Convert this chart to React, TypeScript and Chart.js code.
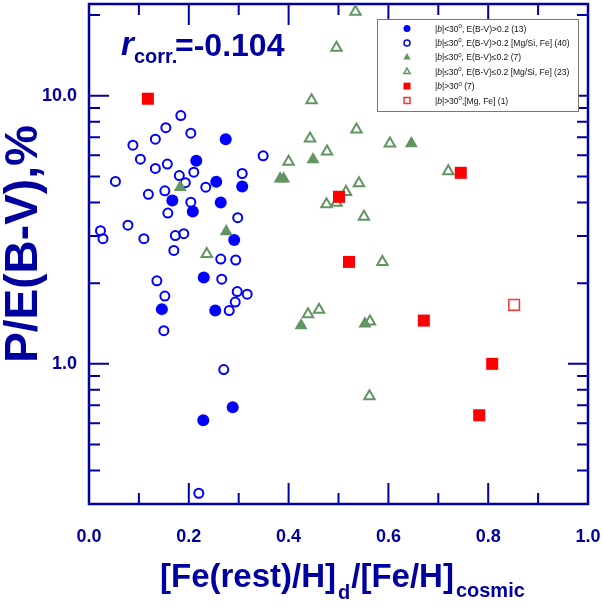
import React, { useEffect, useRef } from 'react';
import { Chart, registerables } from 'chart.js';
import type { ChartConfiguration, Plugin } from 'chart.js';

Chart.register(...registerables);

const FONT = "'Liberation Sans', Arial, sans-serif";
const DARK = '#0000a0';
const BLUE = '#0000ff';
const GREEN = '#639463';
const RED = '#ff0000';
const RED_LIGHT = '#ff3030';

// |b|<30, E(B-V)>0.2 (13)
const blueFilledX = [0.274, 0.215, 0.255, 0.307, 0.167, 0.264, 0.208, 0.291, 0.230, 0.146, 0.253, 0.229, 0.288];
const blueFilledY = [6.89, 5.72, 4.78, 4.59, 4.07, 4.00, 3.70, 2.90, 2.10, 1.60, 1.58, 0.616, 0.689];

// |b|<=30, E(B-V)>0.2 [Mg/Si, Fe]
const blueOpenX = [0.184, 0.154, 0.204, 0.133, 0.088, 0.103, 0.157, 0.133, 0.349, 0.210, 0.181, 0.193, 0.307,
  0.053, 0.234, 0.152, 0.119, 0.204, 0.158, 0.298, 0.078, 0.023, 0.028, 0.110, 0.190, 0.173, 0.170, 0.264,
  0.294, 0.266, 0.136, 0.152, 0.297, 0.317, 0.293, 0.281, 0.150, 0.270, 0.220];
const blueOpenY = [8.44, 7.60, 7.25, 6.89, 6.54, 5.80, 5.56, 5.36, 5.97, 5.19, 5.04, 4.74, 5.13,
  4.79, 4.56, 4.42, 4.29, 4.01, 3.65, 3.51, 3.29, 3.14, 2.93, 2.93, 3.06, 3.01, 2.65, 2.46,
  2.44, 2.07, 2.04, 1.79, 1.86, 1.82, 1.70, 1.58, 1.33, 0.952, 0.329];

// |b|<=30, E(B-V)<=0.2
const greenFilledX = [0.183, 0.275, 0.449, 0.646, 0.383, 0.390, 0.425, 0.553];
const greenFilledY = [4.56, 3.12, 5.79, 6.64, 4.90, 4.90, 1.39, 1.41];

// |b|<=30, E(B-V)<=0.2 [Mg/Si, Fe]
const greenOpenX = [0.534, 0.496, 0.446, 0.536, 0.443, 0.477, 0.400, 0.603, 0.720, 0.541, 0.515, 0.476,
  0.496, 0.551, 0.236, 0.588, 0.439, 0.461, 0.563, 0.562];
const greenOpenY = [20.6, 15.1, 9.63, 7.48, 6.93, 6.20, 5.67, 6.64, 5.23, 4.72, 4.38, 3.94,
  3.99, 3.54, 2.57, 2.40, 1.53, 1.59, 1.44, 0.757];

// |b|>30
const redFilledX = [0.118, 0.501, 0.745, 0.521, 0.671, 0.808, 0.782];
const redFilledY = [9.75, 4.20, 5.16, 2.40, 1.45, 1.00, 0.643];

// |b|>30, [Mg, Fe]
const redOpenX = [0.852];
const redOpenY = [1.66];

const xLabelValues = [0, 0.2, 0.4, 0.6, 0.8, 1.0];
const xMajorTicks = [0.2, 0.4, 0.6, 0.8];
const xMinorTicks = [0.1, 0.3, 0.5, 0.7, 0.9];
const yLabelValues = [1, 10];
const yMinorTicks = [0.4, 0.5, 0.6, 0.7, 0.8, 0.9, 2, 3, 4, 5, 6, 7, 8, 9, 20];

const Y_MIN = 0.3;
const Y_MAX = 22;

const toPoints = (xs: number[], ys: number[]) => xs.map((x, i) => ({ x, y: ys[i] }));

type Part = { text: string; font: string; dy?: number };

const legendRows: Part[][] = (() => {
  const f = `8.5px ${FONT}`;
  const fi = `italic 8.5px ${FONT}`;
  const fs = `6px ${FONT}`;
  const head = (rel: string): Part[] => [
    { text: '|', font: f }, { text: 'b', font: fi }, { text: `|${rel}30`, font: f }, { text: '0', font: fs, dy: -3.5 },
  ];
  return [
    [...head('<'), { text: ', E(B-V)>0.2 (13)', font: f }],
    [...head('\u2264'), { text: ', E(B-V)>0.2 [Mg/Si, Fe] (40)', font: f }],
    [...head('\u2264'), { text: ', E(B-V)\u22640.2 (7)', font: f }],
    [...head('\u2264'), { text: ', E(B-V)\u22640.2 [Mg/Si, Fe] (23)', font: f }],
    [...head('>'), { text: ' (7)', font: f }],
    [...head('>'), { text: ',[Mg, Fe] (1)', font: f }],
  ];
})();

function drawParts(ctx: CanvasRenderingContext2D, x: number, y: number, parts: Part[]) {
  let cx = x;
  parts.forEach((p) => {
    ctx.font = p.font;
    ctx.fillText(p.text, cx, y + (p.dy || 0));
    cx += ctx.measureText(p.text).width;
  });
  return cx;
}

function drawMarker(ctx: CanvasRenderingContext2D, kind: number, x: number, y: number) {
  ctx.save();
  ctx.lineWidth = 1.5;
  ctx.beginPath();
  if (kind === 0 || kind === 1) {
    ctx.arc(x, y, kind === 0 ? 3.5 : 3, 0, Math.PI * 2);
    if (kind === 0) { ctx.fillStyle = BLUE; ctx.fill(); } else { ctx.strokeStyle = BLUE; ctx.stroke(); }
  } else if (kind === 2 || kind === 3) {
    const r = kind === 2 ? 4.2 : 3.6;
    ctx.moveTo(x, y - r);
    ctx.lineTo(x + r * 0.866, y + r / 2);
    ctx.lineTo(x - r * 0.866, y + r / 2);
    ctx.closePath();
    if (kind === 2) { ctx.fillStyle = GREEN; ctx.fill(); } else { ctx.strokeStyle = GREEN; ctx.stroke(); }
  } else if (kind === 4) {
    ctx.fillStyle = RED;
    ctx.fillRect(x - 3.5, y - 3.5, 7, 7);
  } else {
    ctx.strokeStyle = RED_LIGHT;
    ctx.strokeRect(x - 3, y - 3, 6, 6);
  }
  ctx.restore();
}

const framePlugin: Plugin<'scatter'> = {
  id: 'frameTicks',
  beforeDatasetsDraw(chart) {
    const { ctx, chartArea: a, scales } = chart;
    const xs = scales.x;
    const ys = scales.y;
    ctx.save();
    ctx.strokeStyle = DARK;
    ctx.lineWidth = 2;
    ctx.beginPath();
    const tick = (x1: number, y1: number, x2: number, y2: number) => { ctx.moveTo(x1, y1); ctx.lineTo(x2, y2); };
    xMajorTicks.forEach((v) => {
      const px = xs.getPixelForValue(v);
      tick(px, a.bottom, px, a.bottom - 21);
      tick(px, a.top, px, a.top + 21);
    });
    xMinorTicks.forEach((v) => {
      const px = xs.getPixelForValue(v);
      tick(px, a.bottom, px, a.bottom - 11);
      tick(px, a.top, px, a.top + 11);
    });
    yLabelValues.forEach((v) => {
      const py = ys.getPixelForValue(v);
      tick(a.left, py, a.left + 20, py);
      tick(a.right, py, a.right - 20, py);
    });
    yMinorTicks.forEach((v) => {
      const py = ys.getPixelForValue(v);
      tick(a.left, py, a.left + 11, py);
      tick(a.right, py, a.right - 11, py);
    });
    ctx.stroke();
    ctx.lineWidth = 2.5;
    ctx.strokeRect(a.left, a.top, a.right - a.left, a.bottom - a.top);
    ctx.restore();
  },
  afterDraw(chart) {
    const { ctx, chartArea: a } = chart;
    ctx.save();
    ctx.fillStyle = DARK;
    ctx.textBaseline = 'alphabetic';
    ctx.textAlign = 'left';

    // correlation coefficient
    drawParts(ctx, 121, 55, [{ text: 'r', font: `italic bold 33px ${FONT}` }]);
    drawParts(ctx, 134, 63, [{ text: 'corr.', font: `bold 20px ${FONT}` }]);
    drawParts(ctx, 175, 56, [{ text: '=-0.104', font: `bold 32px ${FONT}` }]);

    // x title with subscripts
    let cx = drawParts(ctx, 160, 587, [{ text: '[Fe(rest)/H]', font: `bold 33px ${FONT}` }]) + 2;
    cx = drawParts(ctx, cx, 599, [{ text: 'd', font: `bold 20px ${FONT}` }]) + 1;
    cx = drawParts(ctx, cx, 587, [{ text: '/[Fe/H]', font: `bold 33px ${FONT}` }]) + 2;
    drawParts(ctx, cx, 597, [{ text: 'cosmic', font: `bold 20px ${FONT}` }]);

    // y title
    ctx.save();
    ctx.translate(37, (a.top + a.bottom) / 2 - 10);
    ctx.rotate(-Math.PI / 2);
    ctx.textAlign = 'center';
    ctx.font = `bold 46px ${FONT}`;
    ctx.fillText('P/E(B-V),%', 0, 0);
    ctx.restore();

    // legend
    const lx = 377;
    const ly = 19;
    ctx.fillStyle = '#ffffff';
    ctx.fillRect(lx, ly, 201, 92);
    ctx.strokeStyle = '#777777';
    ctx.lineWidth = 1;
    ctx.strokeRect(lx + 0.5, ly + 0.5, 201, 92);
    ctx.fillStyle = '#111111';
    legendRows.forEach((parts, i) => {
      const ry = 28.5 + i * 14.4;
      drawMarker(ctx, i, 407, ry);
      drawParts(ctx, 435, ry + 3, parts);
    });
    ctx.restore();
  },
};

const noPadding = (scale: any) => {
  scale.paddingLeft = 0;
  scale.paddingRight = 0;
  scale.paddingTop = 0;
  scale.paddingBottom = 0;
};

const App: React.FC = () => {
  const chartRef = useRef<HTMLCanvasElement>(null);
  const chartInstanceRef = useRef<Chart | null>(null);

  useEffect(() => {
    if (!chartRef.current) return;
    if (chartInstanceRef.current) chartInstanceRef.current.destroy();

    const config: ChartConfiguration<'scatter'> = {
      type: 'scatter',
      data: {
        datasets: [
          {
            label: '|b|>30 (7)',
            data: toPoints(redFilledX, redFilledY),
            pointStyle: 'rect',
            radius: 8.5,
            backgroundColor: RED,
            borderColor: RED,
            borderWidth: 0,
          },
          {
            label: '|b|>30,[Mg, Fe] (1)',
            data: toPoints(redOpenX, redOpenY),
            pointStyle: 'rect',
            radius: 7.5,
            backgroundColor: 'rgba(0,0,0,0)',
            borderColor: RED_LIGHT,
            borderWidth: 1.5,
          },
          {
            label: '|b|<=30, E(B-V)<=0.2 (7)',
            data: toPoints(greenFilledX, greenFilledY),
            pointStyle: 'triangle',
            radius: 7.5,
            backgroundColor: GREEN,
            borderColor: GREEN,
            borderWidth: 0,
          },
          {
            label: '|b|<=30, E(B-V)<=0.2 [Mg/Si, Fe] (23)',
            data: toPoints(greenOpenX, greenOpenY),
            pointStyle: 'triangle',
            radius: 6,
            backgroundColor: 'rgba(0,0,0,0)',
            borderColor: GREEN,
            borderWidth: 2,
          },
          {
            label: '|b|<30, E(B-V)>0.2 (13)',
            data: toPoints(blueFilledX, blueFilledY),
            pointStyle: 'circle',
            radius: 6,
            backgroundColor: BLUE,
            borderColor: BLUE,
            borderWidth: 0,
          },
          {
            label: '|b|<=30, E(B-V)>0.2 [Mg/Si, Fe] (40)',
            data: toPoints(blueOpenX, blueOpenY),
            pointStyle: 'circle',
            radius: 4.5,
            backgroundColor: 'rgba(0,0,0,0)',
            borderColor: BLUE,
            borderWidth: 2,
          },
        ],
      },
      options: {
        responsive: true,
        maintainAspectRatio: false,
        animation: false,
        events: [],
        clip: false as any,
        layout: { autoPadding: false, padding: { top: 4, right: 15, left: 0, bottom: 0 } },
        plugins: {
          legend: { display: false },
          tooltip: { enabled: false },
        },
        scales: {
          x: {
            type: 'linear',
            min: 0,
            max: 1,
            grid: { display: false, drawTicks: false },
            border: { display: false },
            afterBuildTicks: (scale: any) => {
              scale.ticks = xLabelValues.map((value) => ({ value }));
            },
            afterFit: (scale: any) => {
              scale.height = 103;
              noPadding(scale);
            },
            ticks: {
              autoSkip: false,
              maxRotation: 0,
              padding: 22,
              color: DARK,
              font: { family: FONT, size: 18, weight: 'bold' },
              callback: (v: any) => Number(v).toFixed(1),
            },
          },
          y: {
            type: 'logarithmic',
            min: Y_MIN,
            max: Y_MAX,
            grid: { display: false, drawTicks: false },
            border: { display: false },
            afterBuildTicks: (scale: any) => {
              scale.ticks = yLabelValues.map((value) => ({ value }));
            },
            afterFit: (scale: any) => {
              scale.width = 89;
              noPadding(scale);
            },
            ticks: {
              autoSkip: false,
              padding: 12,
              color: DARK,
              font: { family: FONT, size: 18, weight: 'bold' },
              callback: (v: any) => Number(v).toFixed(1),
            },
          },
        },
      },
      plugins: [framePlugin],
    };

    chartInstanceRef.current = new Chart(chartRef.current, config);

    return () => {
      if (chartInstanceRef.current) {
        chartInstanceRef.current.destroy();
        chartInstanceRef.current = null;
      }
    };
  }, []);

  return (
    <div style={{ position: 'absolute', left: 0, top: 0, width: 603, height: 607, background: '#fff' }}>
      <canvas ref={chartRef}></canvas>
    </div>
  );
};

export default App;
